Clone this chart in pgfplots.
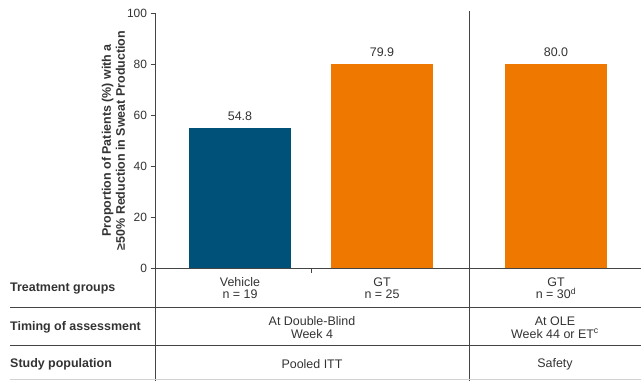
\documentclass[border=0pt]{standalone}
\usepackage{pgfplots}
\pgfplotsset{compat=1.18}
\usepackage{fontspec}
\setmainfont{Liberation Sans}
\definecolor{vblue}{RGB}{0,81,122}
\definecolor{gtorange}{RGB}{238,120,0}
\definecolor{txt}{RGB}{51,51,51}
\definecolor{ln}{RGB}{68,68,68}
\definecolor{faint}{RGB}{210,210,210}
\begin{document}
\begin{tikzpicture}[x=1bp,y=1bp]
\useasboundingbox (0,0) rectangle (641,381);
\begin{axis}[
  at={(155bp,113bp)}, anchor=south west,
  scale only axis, width=486bp, height=255bp,
  xmin=155, xmax=641, ymin=0, ymax=100,
  axis x line*=bottom, axis y line*=left,
  axis line style={ln, line width=0.8bp},
  ytick={0,20,40,60,80,100},
  xtick={311.5}, xticklabels={},
  tick align=outside, major tick length=4.5bp,
  tick style={ln, line width=0.8bp},
  yticklabel style={font=\fontsize{12}{14}\selectfont, text=txt},
  /pgf/number format/assume math mode=true,
  ylabel={Proportion of Patients (\%) with a\\≥50\% Reduction in Sweat Production},
  ylabel style={at={(axis description cs:-0.0854,0.5)}, anchor=center, align=center,
    font=\fontsize{12.5}{14}\selectfont\bfseries, text=txt},
  clip=false,
  nodes near coords={\pgfmathprintnumber[fixed,fixed zerofill,precision=1]{\pgfplotspointmeta}},
  nodes near coords style={font=\fontsize{12.5}{14}\selectfont, text=txt, yshift=4bp},
]
\addplot[ybar, bar width=102, bar shift=0pt, fill=vblue, draw=none] coordinates {(240,54.8)};
\addplot[ybar, bar width=102, bar shift=0pt, fill=gtorange, draw=none] coordinates {(382,79.9)};
\addplot[ybar, bar width=102, bar shift=0pt, fill=gtorange, draw=none] coordinates {(556,80.0)};
\end{axis}
% table lines
\draw[ln, line width=0.8bp] (155,0) -- (155,113);
\draw[ln, line width=0.8bp] (469.5,0) -- (469.5,370);
\draw[ln, line width=0.8bp] (10,73.5) -- (641,73.5);
\draw[ln, line width=0.8bp] (10,36) -- (641,36);
\draw[faint, line width=0.8bp] (10,1.5) -- (641,1.5);
% row labels
\begin{scope}[every node/.style={font=\fontsize{12.5}{13}\selectfont\bfseries, text=txt, anchor=west, inner sep=0pt}]
\node at (10,92) {Treatment groups};
\node at (10,54) {Timing of assessment};
\node at (10,17) {Study population};
\end{scope}
\begin{scope}[every node/.style={font=\fontsize{12.5}{12.5}\selectfont, text=txt, align=center, inner sep=0pt}]
\node at (240,93) {Vehicle\\n = 19};
\node at (382,93) {GT\\n = 25};
\node at (556,93) {GT\\n = 30\textsuperscript{d}};
\node at (312,53.5) {At Double-Blind\\Week 4};
\node at (555,53.5) {At OLE\\Week 44 or ET\textsuperscript{c}};
\node at (312,17) {Pooled ITT};
\node at (555,17) {Safety};
\end{scope}
\end{tikzpicture}
\end{document}
